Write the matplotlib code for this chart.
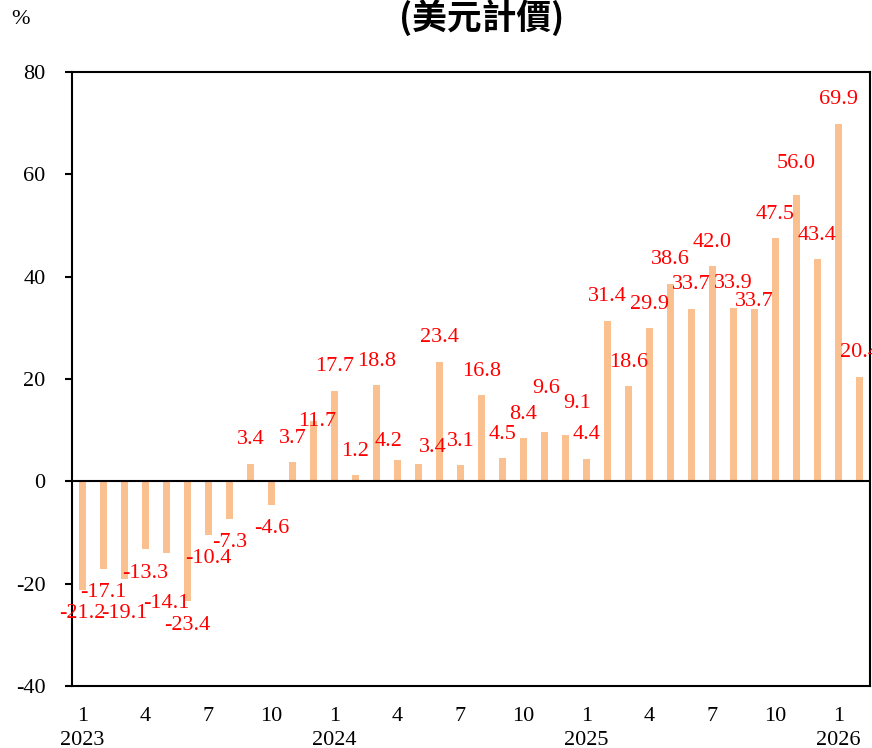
import matplotlib.pyplot as plt

# monthly growth, %, Jan 2023 - Feb 2026
years = [2023, 2024, 2025, 2026]
values = [-21.2, -17.1, -19.1, -13.3, -14.1, -23.4, -10.4, -7.3, 3.4, -4.6, 3.7, 11.7,
          17.7, 1.2, 18.8, 4.2, 3.4, 23.4, 3.1, 16.8, 4.5, 8.4, 9.6, 9.1,
          4.4, 31.4, 18.6, 29.9, 38.6, 33.7, 42.0, 33.9, 33.7, 47.5, 56.0, 43.4,
          69.9, 20.4]
tick_months = [1, 4, 7, 10]

# label nudges (px) where the original labels sit off the default spot
nudge = {2: (0, 10), 4: (0, 26), 11: (4, -24), 15: (-9, -6), 16: (14, -8),
         22: (2, 20), 23: (12, 7), 32: (0, -17), 34: (0, 7)}

plt.rcParams['font.family'] = ['Liberation Serif', 'DejaVu Serif']
plt.rcParams['axes.unicode_minus'] = False

fig = plt.figure(figsize=(8.72, 7.48), dpi=100)
ax = fig.add_axes([72 / 872, 62 / 748, 798 / 872, 614 / 748])

xs = list(range(len(values)))
ax.bar(xs, values, width=0.33, color='#FAC090', zorder=2)
ax.axhline(0, color='black', lw=1.5, zorder=3)

ax.set_xlim(-0.5, len(values) - 0.5)
ax.set_ylim(-40, 80)
ax.set_yticks(range(-40, 81, 20))

ticks, labels = [], []
for i in xs:
    m = i % 12 + 1
    if m in tick_months:
        ticks.append(i)
        labels.append(f'{m}\n{years[i // 12]}' if m == 1 else str(m))
ax.set_xticks(ticks)
ax.set_xticklabels(labels, linespacing=1.35, va='top')

ax.tick_params(axis='y', direction='out', length=5, width=1.5, pad=14, labelsize=16)
ax.tick_params(axis='x', length=0, pad=15, labelsize=16)
for s in ax.spines.values():
    s.set_linewidth(1.5)

for i, v in enumerate(values):
    dx, dy = nudge.get(i, (0, 0))
    sign = 1 if v >= 0 else -1
    ax.annotate(f'{v:.1f}', (i, v), xytext=(dx * 0.72, sign * (24 + dy) * 0.72),
                textcoords='offset points', ha='center', va='center',
                color='red', fontsize=16, annotation_clip=False, zorder=4)

fig.text(20 / 872, 1 - 19 / 748, '%', ha='center', va='center', fontsize=16)
fig.text(482 / 872, 1 - 18 / 748, '(美元計價)', ha='center', va='center',
         fontsize=25, fontweight='bold', family=['Noto Sans CJK TC', 'DejaVu Sans'])

fig.savefig('out.png', dpi=100)
